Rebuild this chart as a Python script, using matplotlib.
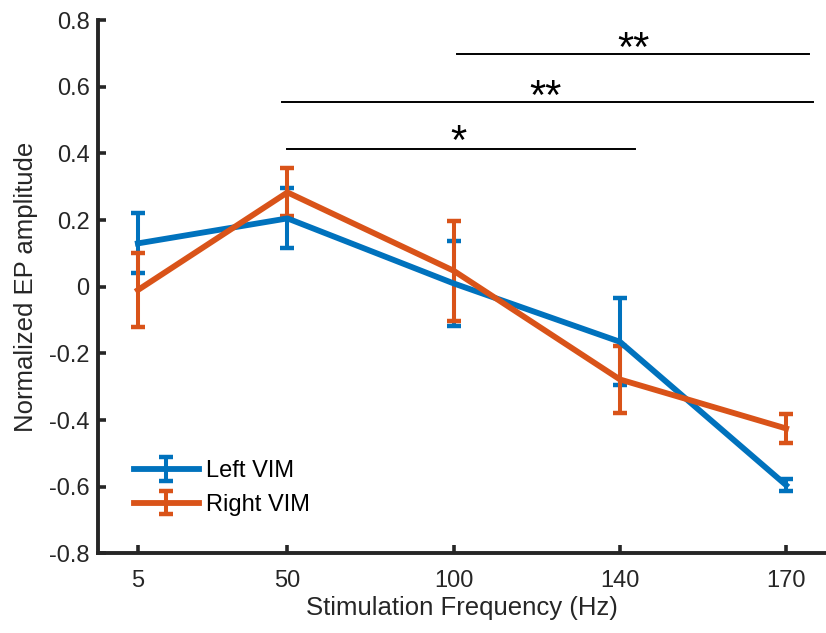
import matplotlib.pyplot as plt

plt.rcParams['font.family'] = ['Liberation Sans', 'DejaVu Sans']

# stimulation frequencies and where they sit on the axis
freq_labels = ['5', '50', '100', '140', '170']
freq_pos = [1.0, 1.9, 2.9, 3.9, 4.9]

# mean normalized EP amplitude and error
left_mean = [0.13, 0.205, 0.01, -0.165, -0.595]
left_err = [0.09, 0.09, 0.128, 0.13, 0.018]
right_mean = [-0.01, 0.283, 0.048, -0.278, -0.425]
right_err = [0.112, 0.072, 0.15, 0.1, 0.043]

# significance bars: (start, end, height, label, label x, label y)
sig_bars = [
    (1.9, 3.99, 0.414, '*', 2.93, 0.43),
    (1.87, 5.06, 0.555, '**', 3.455, 0.565),
    (2.92, 5.04, 0.698, '**', 3.98, 0.71),
]

blue = '#0072BD'
orange = '#D95319'
dark = '#262626'

fig = plt.figure(figsize=(8.26, 6.33), dpi=100)
ax = fig.add_axes([0.1186, 0.1256, 0.8814, 0.8428])

ax.errorbar(freq_pos, left_mean, yerr=left_err, color=blue, linewidth=4.2,
            elinewidth=2.9, capsize=4.7, capthick=3.2, label='Left VIM')
ax.errorbar(freq_pos, right_mean, yerr=right_err, color=orange, linewidth=4.2,
            elinewidth=2.9, capsize=4.7, capthick=3.2, label='Right VIM')

for x0, x1, y, txt, tx, ty in sig_bars:
    ax.plot([x0, x1], [y, y], color='black', linewidth=1.4, clip_on=False)
    ax.text(tx, ty, txt, ha='center', va='center', fontsize=30)

ax.set_xlim(0.76, 5.14)
ax.set_ylim(-0.8, 0.8)
ax.set_xticks(freq_pos)
ax.set_xticklabels(freq_labels)
ax.set_yticks([-0.8, -0.6, -0.4, -0.2, 0, 0.2, 0.4, 0.6, 0.8])
ax.set_yticklabels(['-0.8', '-0.6', '-0.4', '-0.2', '0', '0.2', '0.4', '0.6', '0.8'])

ax.spines['top'].set_visible(False)
ax.spines['right'].set_visible(False)
for s in ['left', 'bottom']:
    ax.spines[s].set_linewidth(2.8)
    ax.spines[s].set_color(dark)
ax.tick_params(direction='in', length=6, width=2.6, color=dark,
               labelsize=17, labelcolor=dark)
ax.tick_params(axis='x', pad=12)
ax.tick_params(axis='y', pad=6)

ax.set_xlabel('Stimulation Frequency (Hz)', fontsize=18.5, color=dark, labelpad=3)
ax.set_ylabel('Normalized EP amplitude', fontsize=18.5, color=dark, labelpad=8)

ax.legend(loc='upper left', bbox_to_anchor=(0.02, 0.215), frameon=False,
          fontsize=17, handlelength=2.75, handletextpad=0.3, labelspacing=0.5)

fig.savefig('out.png', dpi=100)
